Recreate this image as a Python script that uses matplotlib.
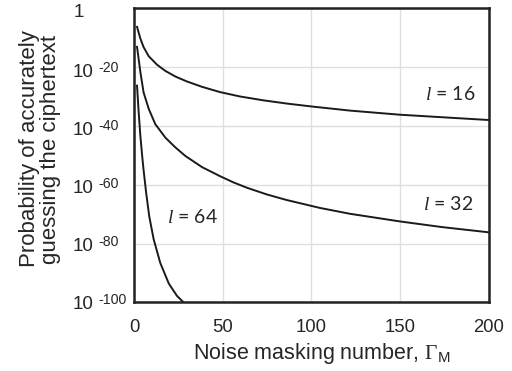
import matplotlib
matplotlib.use("Agg")
import matplotlib.pyplot as plt
import matplotlib.transforms as mtransforms
import numpy as np

plt.rcParams['mathtext.fontset'] = 'custom'
plt.rcParams['mathtext.rm'] = 'Liberation Serif'
plt.rcParams['mathtext.it'] = 'Liberation Serif:italic'
plt.rcParams['mathtext.sf'] = 'Liberation Sans'
plt.rcParams['font.family'] = ['Liberation Sans', 'DejaVu Sans']

TXT = '#262626'

# Noise masking number values and log10 of probability for each key length l
x16 = [1.7, 3.6, 5.4, 8.3, 13, 17.7, 23.3, 29.9, 38.3, 48.5, 59.8, 72.9, 86.1, 100.2, 121.8, 150, 200]
e16 = [-6.3, -10.3, -13.2, -16.3, -19.2, -21.3, -23.2, -24.9, -26.7, -28.5, -30.0, -31.3, -32.4,
       -33.4, -34.8, -36.2, -38.0]

x32 = [1.7, 3.6, 5.4, 8.3, 12, 17.7, 23.3, 28.9, 38.3, 48.5, 56, 63.5, 74.8, 86, 104.8, 121.8, 150, 173.4, 200]
e32 = [-13.1, -21.7, -28.6, -34.2, -39.4, -44.0, -47.3, -50.2, -54.0, -57.1, -59.2, -61.0, -63.3,
       -65.2, -67.9, -69.9, -72.5, -74.4, -76.2]

x64 = [1.7, 2.6, 3.6, 4.7, 5.4, 6.8, 8.6, 11.1, 14.8, 19.6, 24.2, 28.9, 32]
e64 = [-26.3, -35.0, -43.5, -50.8, -55.0, -62.5, -70.8, -78.6, -86.6, -93.6, -97.8, -100.6, -102.2]

labels = ["16", "32", "64"]
ytick_exps = [0, -20, -40, -60, -80, -100]
xticks = [0, 50, 100, 150, 200]

W, H = 512, 371
fig = plt.figure(figsize=(W / 100, H / 100), dpi=100)
L, R, T, B = 134, 488.8, 8.3, 302.3
ax = fig.add_axes([L / W, 1 - B / H, (R - L) / W, (B - T) / H])

for xs, es in [(x16, e16), (x32, e32), (x64, e64)]:
    ax.plot(xs, 10.0 ** np.array(es, dtype=float), color='#1a1a1a', lw=1.4,
            solid_joinstyle='round')

ax.set_yscale('log')
ax.set_xlim(0, 200)
ax.set_ylim(1e-100, 1)
ax.set_xticks(xticks)
ax.set_xticklabels([str(v) for v in xticks])
ax.set_yticks([10.0 ** e for e in ytick_exps])
ax.yaxis.set_minor_locator(matplotlib.ticker.NullLocator())
ax.set_yticklabels([])
ax.tick_params(axis='both', length=0)
ax.tick_params(axis='x', labelsize=13.3, colors=TXT, pad=12)

ax.grid(True, color='#dedede', lw=1.0)
ax.set_axisbelow(True)
for s in ax.spines.values():
    s.set_color('#222222')
    s.set_linewidth(1.8)

# y tick labels: "10" with a small superscript exponent, left-aligned
blend = mtransforms.blended_transform_factory(fig.transFigure, ax.transData)
for k, e in enumerate(ytick_exps):
    dy = -(4.4 - 0.9 * k)  # pixel offset of label centre from gridline
    if e == 0:
        t = mtransforms.offset_copy(blend, fig=fig, x=0, y=dy, units='dots')
        ax.text(74 / W, 1.0, "1", transform=t, ha='left', va='center',
                fontsize=13.5, color=TXT, clip_on=False)
        continue
    t_main = mtransforms.offset_copy(blend, fig=fig, x=0, y=dy - 6.7, units='dots')
    ax.text(73 / W, 10.0 ** e, "10", transform=t_main, ha='left', va='baseline',
            fontsize=13.5, color=TXT, clip_on=False)
    t_sup = mtransforms.offset_copy(blend, fig=fig, x=25.5, y=dy - 6.7 + 5.0, units='dots')
    ax.text(73 / W, 10.0 ** e, "-" + str(-e), transform=t_sup, ha='left', va='baseline',
            fontsize=10.2, color=TXT, clip_on=False)

fig.text(322 / W, 1 - 353 / H, r"Noise masking number, $\Gamma_{\mathsf{M}}$",
         fontsize=15.5, color=TXT, ha='center', va='center')
fig.text(40 / W, 1 - 149 / H, "Probability of accurately\nguessing the ciphertext",
         fontsize=16, color=TXT, ha='center', va='center', rotation=90,
         linespacing=1.05, multialignment='center')

lab_kw = dict(fontsize=14, ha='center', va='center', color=TXT, family=['Lato', 'DejaVu Sans'])
ax.text(178, 10.0 ** -29, r"$l$ = " + labels[0], **lab_kw)
ax.text(177, 10.0 ** -66.4, r"$l$ = " + labels[1], **lab_kw)
ax.text(33, 10.0 ** -71, r"$l$ = " + labels[2], **lab_kw)

fig.savefig("out.png", dpi=100)
